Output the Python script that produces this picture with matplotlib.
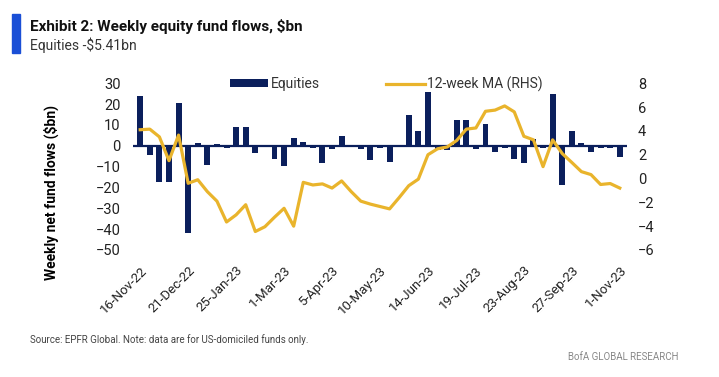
import pandas as pd
import matplotlib
matplotlib.use('Agg')
import matplotlib.pyplot as plt
from matplotlib.patches import Rectangle

plt.rcParams['font.family'] = ['Roboto', 'DejaVu Sans']

# weekly dates, 16-Nov-22 .. 1-Nov-23
weeks = pd.date_range('2022-11-16', '2023-11-01', freq='7D')
tick_labels = [d.strftime('%-d-%b-%y') for d in weeks]

# weekly equity flows, $bn (LHS)
equities = [24, -4.5, -17.5, -17.5, 20.5, -42, 1.3, -9, 1, -1,
            9.2, 9.2, -3.6, 0.5, -6.4, -9.5, 3.6, 2, -1, -8.4,
            -1.6, 4.7, -0.3, -1.6, -6.8, -1, -7.6, 0.5, 15, 7.3,
            25.7, -2, -2.2, 12.5, 12.5, -1.7, 10.6, -3, -1, -6.4,
            -8.3, 3.5, -1, 25, -18.8, 7.3, 1.2, -3, -1, -1, -5.41]

# 12-week moving average, $bn (RHS)
ma12 = [4.1, 4.15, 3.5, 1.5, 3.65, -0.4, -0.1, -1.1, -1.9, -3.65,
        -3.05, -2.2, -4.45, -4.05, -3.25, -2.5, -4.0, -0.32, -0.54, -0.45,
        -0.8, -0.2, -1.1, -1.9, -2.15, -2.35, -2.55, -1.6, -0.6, -0.05,
        2.0, 2.5, 2.65, 3.2, 4.15, 4.25, 5.65, 5.75, 6.1, 5.6,
        3.55, 3.25, 1.0, 3.25, 2.1, 1.35, 0.58, 0.33, -0.5, -0.42, -0.8]

navy = '#0b1f5c'
gold = '#e9b42c'

fig = plt.figure(figsize=(7.19, 3.77), dpi=100)
ax = fig.add_axes([0.185, 0.337, 0.687, 0.442])
ax2 = ax.twinx()

x = range(len(weeks))
bars = ax.bar(x, equities, width=0.62, color=navy, label='Equities', zorder=2)
ax.axhline(0, color=navy, lw=1.6, zorder=3)
line, = ax2.plot(x, ma12, color=gold, lw=2.3, label='12-week MA (RHS)')

ax.set_xlim(-0.75, len(weeks) - 0.25)
ax.set_ylim(-50, 30)
ax.set_yticks(range(-50, 31, 10))
ax2.set_ylim(-6, 8)
ax2.set_yticks(range(-6, 9, 2))

ax.set_xticks(list(x)[::5])
ax.set_xticklabels(tick_labels[::5], rotation=45, ha='right', rotation_mode='anchor')

for a in (ax, ax2):
    for s in a.spines.values():
        s.set_visible(False)
    a.tick_params(length=0, labelsize=10.5, colors='#222222')
ax.tick_params(axis='x', pad=10, labelsize=9.5)
ax.tick_params(axis='y', pad=9)
ax2.tick_params(axis='y', pad=8)

ax.set_ylabel('Weekly net fund flows ($bn)', fontsize=10, fontweight='bold')
ax.yaxis.set_label_coords(-0.15, 0.345)

fig.legend([bars, line], ['Equities', '12-week MA (RHS)'], loc='center left',
           bbox_to_anchor=(0.302, 1 - 84 / 377), ncol=2, frameon=False, fontsize=10,
           handlelength=2.75, handleheight=0.5, columnspacing=4.8, handletextpad=0.2,
           labelcolor='#333333')

fig.patches.append(Rectangle((12 / 719, 1 - 53 / 377), 8 / 719, 39 / 377,
                             transform=fig.transFigure, color='#1a4fd6'))
fig.text(30 / 719, 1 - 26 / 377, 'Exhibit 2: Weekly equity fund flows, $bn',
         fontsize=11, fontweight='bold', va='center', color='#111111')
fig.text(30 / 719, 1 - 45 / 377, 'Equities -$5.41bn', fontsize=10, va='center', color='#333333')
fig.text(30 / 719, 1 - 340 / 377, 'Source: EPFR Global. Note: data are for US-domiciled funds only.',
         fontsize=7, va='center', color='#444444')
fig.text(678 / 719, 1 - 357 / 377, 'BofA GLOBAL RESEARCH', fontsize=7, va='center', ha='right',
         color='#888888')

fig.savefig('out.png', dpi=100)
